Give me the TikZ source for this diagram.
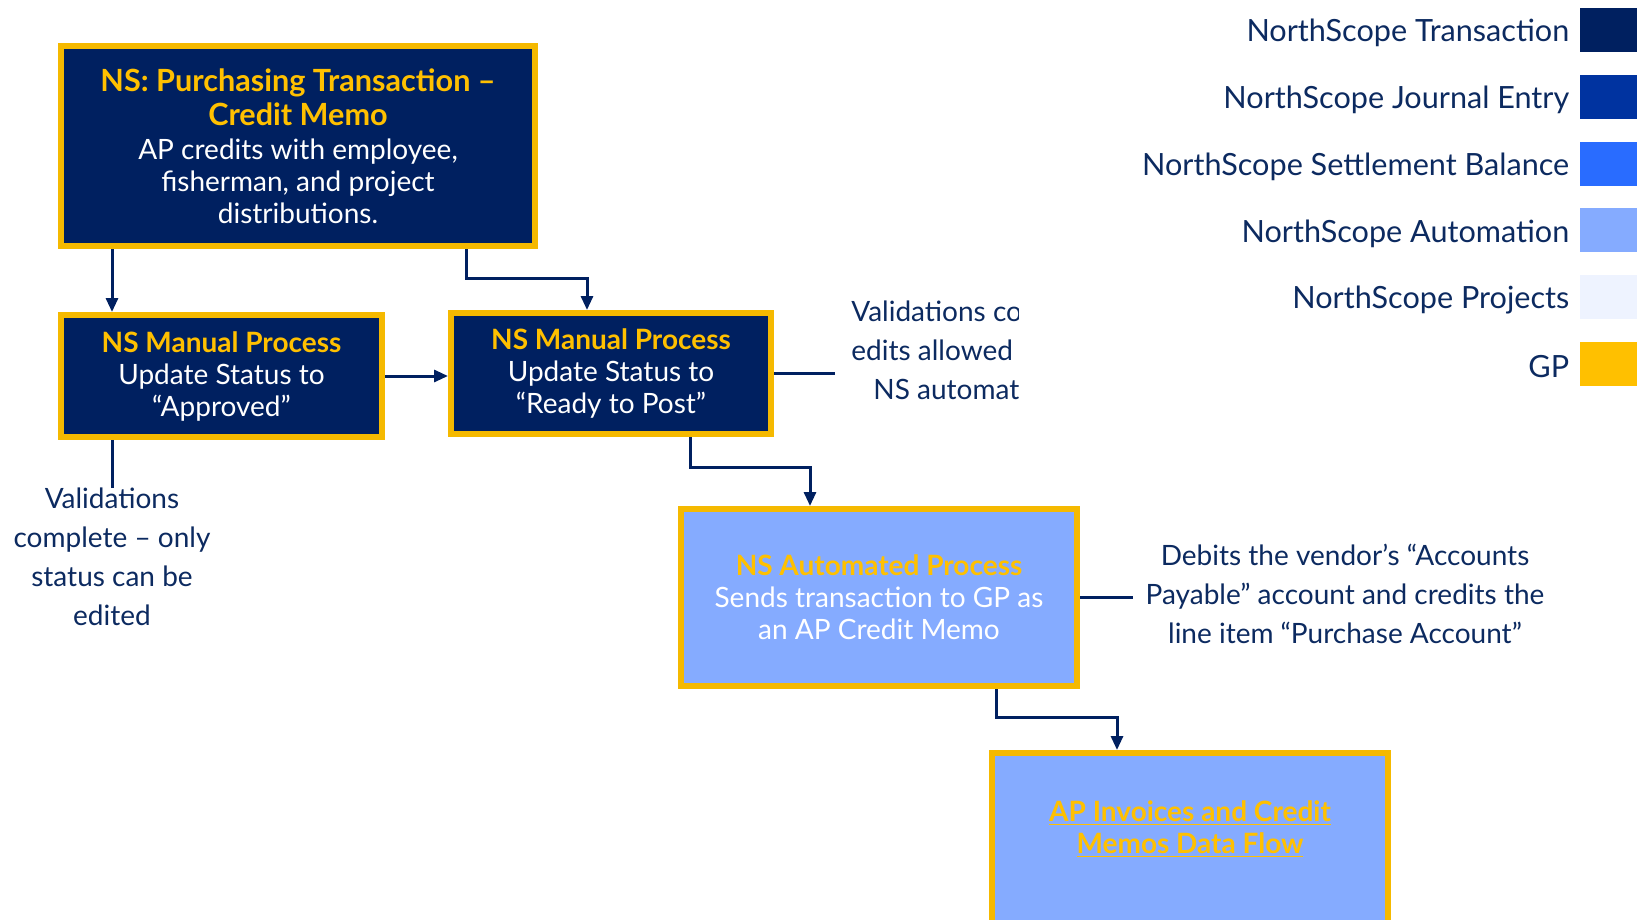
\documentclass[tikz,border=0pt]{standalone}
\usepackage{fontspec}
\setmainfont{Lato}
\usetikzlibrary{positioning,calc,arrows.meta}

\definecolor{nsnavy}{RGB}{0,32,96}
\definecolor{nsjournal}{RGB}{0,51,160}
\definecolor{nssettle}{RGB}{41,108,255}
\definecolor{nsauto}{RGB}{133,171,255}
\definecolor{nsproj}{RGB}{238,243,255}
\definecolor{gpgold}{RGB}{255,192,0}
\definecolor{gpedge}{RGB}{245,185,0}
\definecolor{notetext}{RGB}{12,42,96}

\newcommand\boxhead[1]{{\color{gpgold}\bfseries #1}}

\begin{document}
\begin{tikzpicture}[x=0.5pt,y=-0.5pt,
	box/.style={draw=gpedge,line width=3pt,align=center,inner sep=0pt,font=\fontsize{14}{16}\selectfont},
	manual/.style={box,fill=nsnavy,text=white},
	autobox/.style={box,fill=nsauto,text=white},
	flow/.style={draw=nsnavy,line width=1.5pt,-{Triangle[width=6pt,length=7pt]}},
	link/.style={draw=nsnavy,line width=1.5pt},
	note/.style={text=notetext,align=center,inner sep=0pt,font=\fontsize{14}{19.5}\selectfont},
	swatch/.style={minimum width=28.5pt,minimum height=22pt,inner sep=0pt},
	legendlabel/.style={text=notetext,inner sep=0pt,yshift=-1.5pt,font=\fontsize{15.3}{17}\selectfont}]
	\clip (0,0) rectangle (1643,920);

	% process boxes
	\node[manual,minimum width=237pt,minimum height=100pt] (purchase) at (298,146)
		{\boxhead{\fontsize{15.3}{17.3}\selectfont NS: Purchasing Transaction –}\\[1pt]
		 \boxhead{\fontsize{15.3}{17.3}\selectfont Credit Memo}\\[1pt]
		 AP credits with employee,\\fisherman, and project\\distributions.};
	\node[manual,minimum width=160.5pt,minimum height=61pt] (approved) at (221.5,376)
		{\boxhead{NS Manual Process}\\Update Status to\\“Approved”};
	\node[manual,minimum width=160pt,minimum height=60.5pt] (ready) at (611,373.5)
		{\boxhead{NS Manual Process}\\Update Status to\\“Ready to Post”};
	\node[autobox,minimum width=198pt,minimum height=88.5pt] (send) at (879,597.5)
		{\boxhead{NS Automated Process}\\Sends transaction to GP as\\an AP Credit Memo};
	\node[autobox,minimum width=198pt,minimum height=120pt,anchor=north] (dataflow) at (1190,750) {};
	\node[box,draw=none,text=gpgold] (flowlink) at (1190,829)
		{\bfseries\underline{AP Invoices and Credit}\\\bfseries\underline{Memos Data Flow}};

	% notes
	\node[note] (approvednote) at (112,557) {Validations\\complete – only\\status can be\\edited};
	\node[note] (debitnote) at (1345,594)
		{Debits the vendor’s “Accounts\\Payable” account and credits the\\line item “Purchase Account”};
	\coordinate (readytip) at (835,374);
	\coordinate (sendtip) at (1133,595);
	\begin{scope}
		\clip (845,280) rectangle (1018,410);
		\node[note,align=left,anchor=north west] (readynote) at (851,300)
			{Validations co\\edits allowed\\\hspace*{11pt}NS automate};
	\end{scope}

	% connectors
	\draw[flow] (purchase.south -| approvednote) -- (approved.north -| approvednote);
	\draw[link] (approved.south -| approvednote) -- (approvednote.north);
	\draw[flow] ($(purchase.south east)+(-72,0)$) |- ($(ready.north)+(-24,-32)$) -- ($(ready.north)+(-24,0)$);
	\draw[flow] (approved.east) -- (approved.east -| ready.west);
	\draw[link] (ready.east) -- (ready.east -| readytip);
	\draw[flow] ($(ready.south)+(79,0)$) |- ($(send.north)+(-69,-39)$) -- ($(send.north)+(-69,0)$);
	\draw[link] (send.east) -- (send.east -| sendtip);
	\draw[flow] ($(send.south)+(117,0)$) |- ($(dataflow.north)+(-73,-33)$) -- ($(dataflow.north)+(-73,0)$);

	% legend
	\node[swatch,fill=nsnavy] (swtrans) at (1608.5,30) {};
	\node[swatch,fill=nsjournal,below=11pt of swtrans] (swjournal) {};
	\node[swatch,fill=nssettle,below=11pt of swjournal] (swsettle) {};
	\node[swatch,fill=nsauto,below=11pt of swsettle] (swauto) {};
	\node[swatch,fill=nsproj,below=11pt of swauto] (swproj) {};
	\node[swatch,fill=gpgold,below=11pt of swproj] (swgp) {};
	\node[legendlabel,left=5pt of swtrans] (lbtrans) {NorthScope Transaction};
	\node[legendlabel,left=5pt of swjournal] (lbjournal) {NorthScope Journal Entry};
	\node[legendlabel,left=5pt of swsettle] (lbsettle) {NorthScope Settlement Balance};
	\node[legendlabel,left=5pt of swauto] (lbauto) {NorthScope Automation};
	\node[legendlabel,left=5pt of swproj] (lbproj) {NorthScope Projects};
	\node[legendlabel,left=5pt of swgp] (lbgp) {GP};
\end{tikzpicture}
\end{document}
